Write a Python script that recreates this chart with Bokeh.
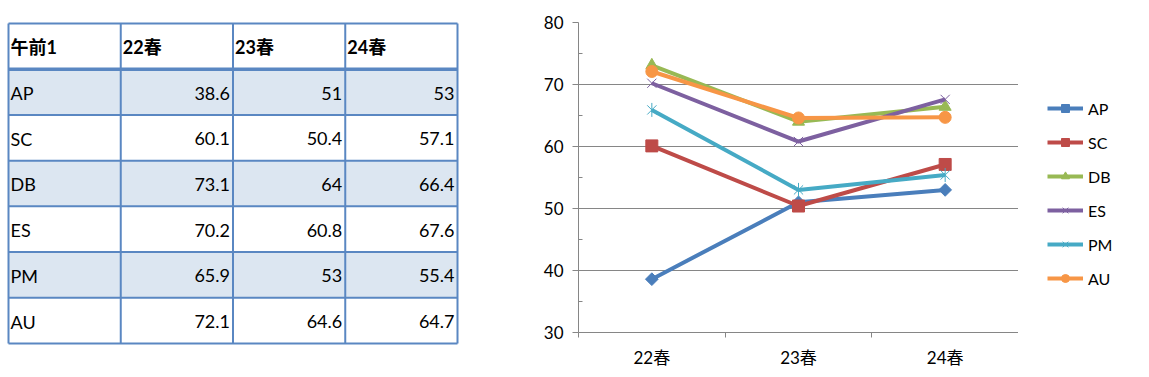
import math
from bokeh.plotting import figure
from bokeh.models import Range1d, FixedTicker, Legend, LegendItem
from bokeh.layouts import row
from bokeh.embed import file_html
from bokeh.resources import INLINE
from bokeh.core.properties import value

# ---------------- data ----------------
categories = ["22春", "23春", "24春"]
table_corner = "午前1"
series_names = ["AP", "SC", "DB", "ES", "PM", "AU"]
AP = [38.6, 51, 53]
SC = [60.1, 50.4, 57.1]
DB = [73.1, 64, 66.4]
ES = [70.2, 60.8, 67.6]
PM = [65.9, 53, 55.4]
AU = [72.1, 64.6, 64.7]
series_values = [AP, SC, DB, ES, PM, AU]
y_ticks = [30, 40, 50, 60, 70, 80]

# ---------------- styles ----------------
colors = ["#4A7EBB", "#BE4B48", "#98B954", "#7D60A0", "#46AAC5", "#F79646"]
FONT = "Lato, 'Noto Sans CJK JP'"
GRID = "#868686"
H = 370

# ---------------- table ----------------
TW = 470
tbl = figure(width=TW, height=H, x_range=Range1d(0, TW), y_range=Range1d(H, 0),
             x_axis_type=None, y_axis_type=None, min_border=0, frame_align=False,
             toolbar_location=None, output_backend="svg")
tbl.outline_line_color = None
tbl.grid.visible = False

x0, y0 = 8, 23
cw, rh = 112.25, 45.71
n_rows = len(series_names) + 1
n_cols = len(categories) + 1
band = "#DCE6F1"
border = "#5A87C2"

L, R, T, B, F = [], [], [], [], []
for r in range(n_rows):
    for c in range(n_cols):
        L.append(x0 + c * cw)
        R.append(x0 + (c + 1) * cw)
        T.append(y0 + r * rh)
        B.append(y0 + (r + 1) * rh)
        F.append(band if r % 2 == 1 else "#FFFFFF")
tbl.quad(left=L, right=R, top=T, bottom=B, fill_color=F, line_color=None)

vlx = [x0 + c * cw for c in range(n_cols + 1)]
tbl.segment(x0=vlx, y0=[y0] * len(vlx), x1=vlx, y1=[y0 + n_rows * rh] * len(vlx),
            line_color=border, line_width=2)
hr = [r for r in range(n_rows + 1) if r != 1]
tbl.segment(x0=[x0] * len(hr), y0=[y0 + r * rh for r in hr],
            x1=[x0 + n_cols * cw] * len(hr), y1=[y0 + r * rh for r in hr],
            line_color=border, line_width=2)
tbl.segment(x0=[x0], y0=[y0 + rh], x1=[x0 + n_cols * cw], y1=[y0 + rh],
            line_color=border, line_width=3.5)

hdr = [table_corner] + categories
tbl.text(x=[x0 + c * cw + 2 for c in range(n_cols)], y=[y0 + 0.5 * rh + 1] * n_cols, text=hdr,
         text_font=value(FONT), text_font_size="18px", text_font_style="bold",
         text_baseline="middle", text_align="left", text_color="#000000")
tbl.text(x=[x0 + 2] * len(series_names),
         y=[y0 + (r + 1.5) * rh + 1 for r in range(len(series_names))],
         text=series_names, text_font=value(FONT), text_font_size="18px",
         text_baseline="middle", text_align="left", text_color="#000000")
vx, vy, vt = [], [], []
for r, vals in enumerate(series_values):
    for c, v in enumerate(vals):
        vx.append(x0 + (c + 2) * cw - 3)
        vy.append(y0 + (r + 1.5) * rh + 1)
        vt.append(f"{v:g}")
tbl.text(x=vx, y=vy, text=vt, text_font=value(FONT), text_font_size="18px",
         text_baseline="middle", text_align="right", text_color="#000000")

# ---------------- chart ----------------
CW = 108 + 440
ch = figure(width=CW, height=H, min_border_left=108, min_border_right=0,
            min_border_top=22, min_border_bottom=H - 333, frame_align=False,
            x_range=Range1d(0, len(categories)), y_range=Range1d(y_ticks[0], y_ticks[-1]),
            toolbar_location=None, output_backend="svg")
ch.outline_line_color = None
ch.xgrid.visible = False
ch.ygrid.grid_line_color = GRID
ch.ygrid.grid_line_width = 1

xs = [i + 0.5 for i in range(len(categories))]
xax = ch.xaxis[0]
xax.ticker = FixedTicker(ticks=xs, minor_ticks=list(range(len(categories) + 1)))
xax.major_label_overrides = {x: c for x, c in zip(xs, categories)}
xax.major_tick_out = 0
xax.major_tick_in = 0
xax.minor_tick_out = 5
xax.minor_tick_in = 0
xax.minor_tick_line_color = GRID
xax.axis_line_color = GRID
xax.major_label_text_font = FONT
xax.major_label_text_font_size = "17px"
xax.major_label_text_color = "#000000"
xax.major_label_standoff = 9

yax = ch.yaxis[0]
yax.ticker = FixedTicker(ticks=y_ticks,
                         minor_ticks=[(a + b) / 2 for a, b in zip(y_ticks, y_ticks[1:])])
yax.major_tick_out = 6
yax.major_tick_in = 0
yax.minor_tick_out = 0
yax.minor_tick_in = 4
yax.major_tick_line_color = GRID
yax.minor_tick_line_color = GRID
yax.axis_line_color = GRID
yax.major_label_text_font = FONT
yax.major_label_text_font_size = "17px"
yax.major_label_text_color = "#000000"
yax.major_label_standoff = 9

marker_specs = [
    [("square", 9, math.pi / 4, 1)],
    [("square", 12, 0, 1)],
    [("triangle", 12, 0, 1)],
    [("x", 13, 0, 1)],
    [("x", 13, 0, 1), ("dash", 14, math.pi / 2, 1)],
    [("circle", 12, 0, 1)],
]

# ---------------- legend (own panel to the right of the chart) ----------------
# proxy renderers carry the series data but lie outside this panel's ranges,
# so only their legend glyphs are visible
LW = 123
lf = figure(width=LW, height=H, x_range=Range1d(0, 1), y_range=Range1d(0, 1),
            x_axis_type=None, y_axis_type=None, min_border=0, frame_align=False,
            toolbar_location=None, output_backend="svg")
lf.outline_line_color = None
lf.grid.visible = False

items = []
for name, vals, color, specs in zip(series_names, series_values, colors, marker_specs):
    ch.line(xs, vals, line_color=color, line_width=4)
    proxies = [lf.line(xs, vals, line_color=color, line_width=4)]
    for mk, sz, ang, lw in specs:
        ch.scatter(xs, vals, marker=mk, size=sz, angle=ang, fill_color=color,
                   line_color=color, line_width=lw)
        proxies.append(lf.scatter(xs, vals, marker=mk, size=sz, angle=ang, fill_color=color,
                                  line_color=color, line_width=lw))
    items.append(LegendItem(label=name, renderers=proxies))

legend = Legend(items=items, location=(24, H - 293), padding=5, margin=0,
                glyph_width=36, glyph_height=20, label_height=20, spacing=14,
                label_standoff=5, label_text_font=FONT, label_text_font_size="16px",
                label_text_color="#000000", border_line_alpha=0, background_fill_alpha=0)
lf.add_layout(legend)

layout = row(tbl, ch, lf)
open("out.html", "w").write(file_html(layout, INLINE))
